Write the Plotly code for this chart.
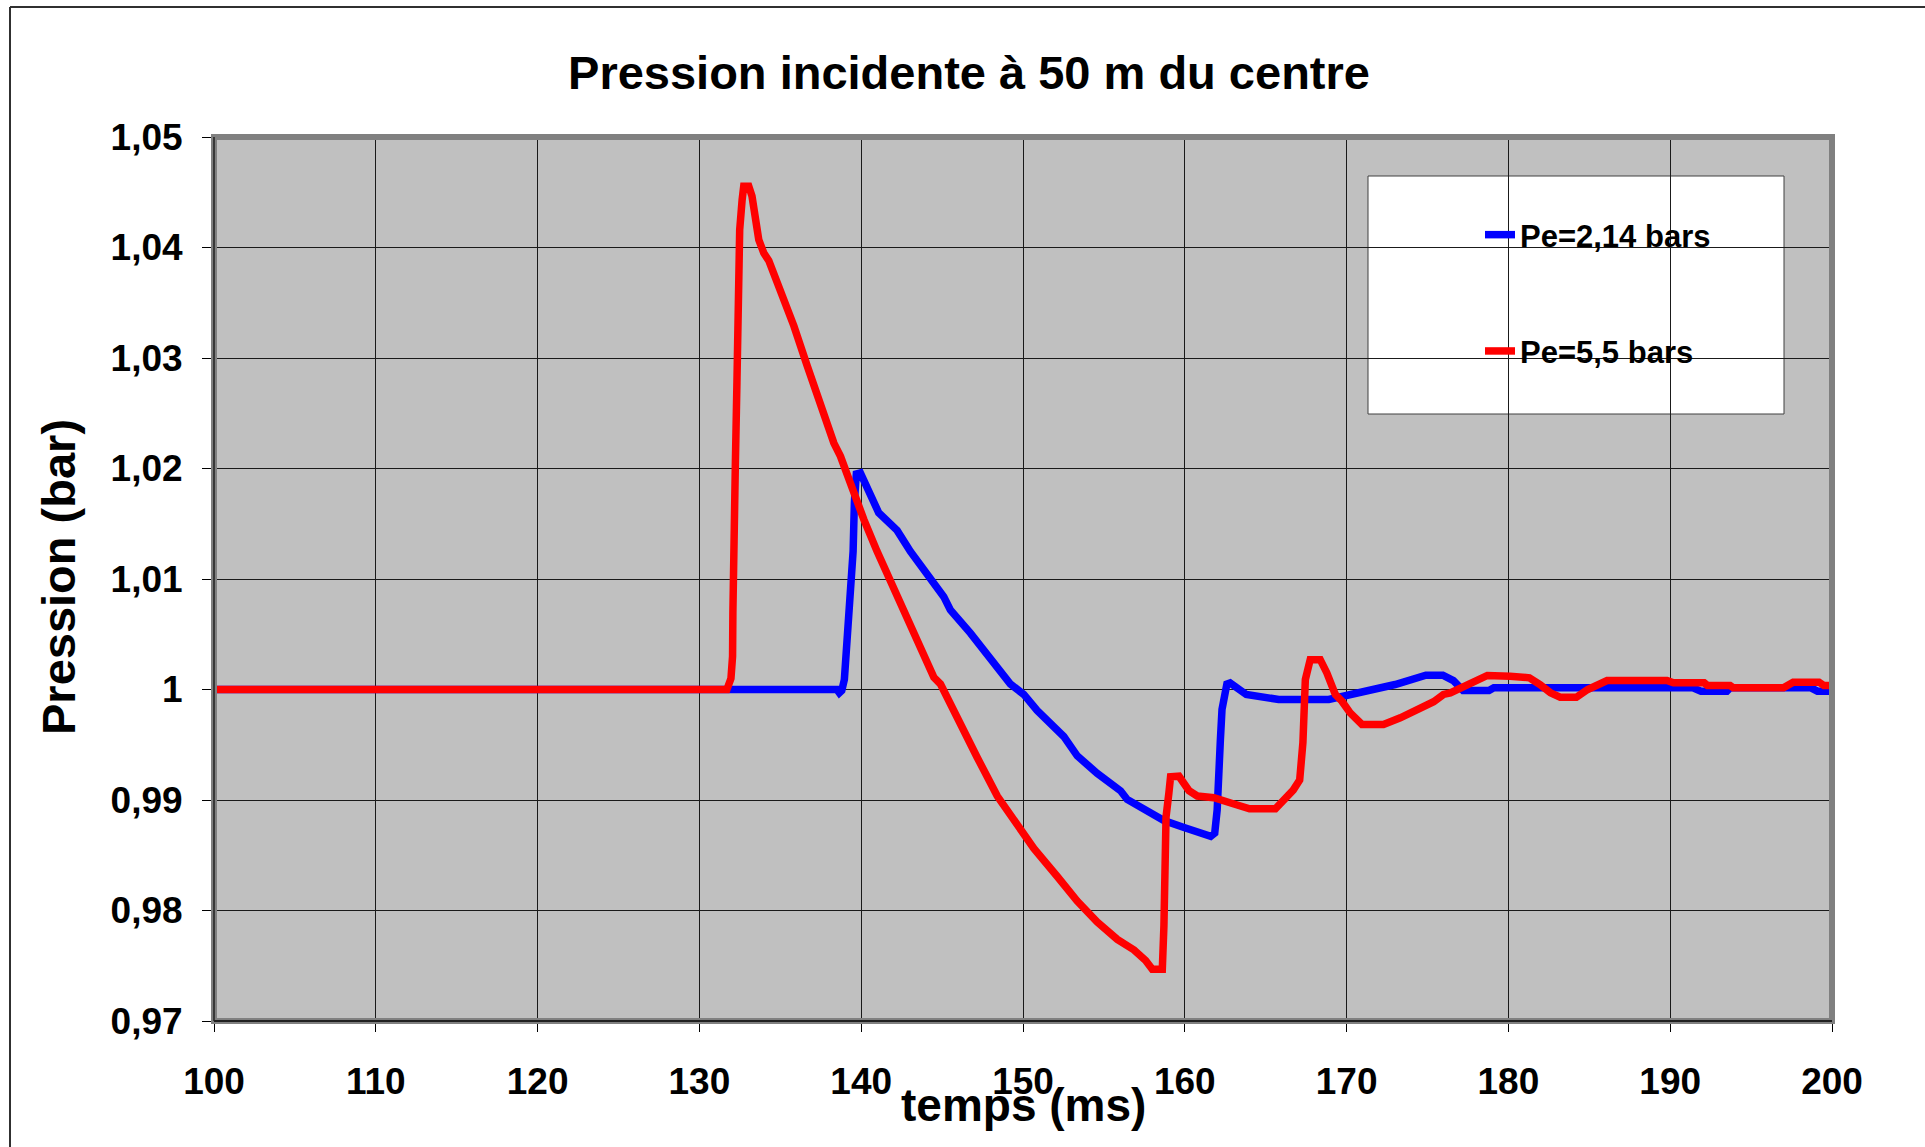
import plotly.graph_objects as go

# Incident pressure 50 m from the centre, two initial pressures
series_names = ["Pe=2,14 bars", "Pe=5,5 bars"]

t_pe214 = [100, 138.5, 138.65, 138.8, 138.96, 139.12, 139.3, 139.4, 139.5, 139.58,
           139.7, 139.95, 140.26, 140.57, 141.08, 142.22, 143.04, 145.1, 145.51,
           146.75, 147.78, 149.22, 150.05, 150.87, 152.52, 153.35, 154.58, 156.03,
           156.44, 157.68, 158.71, 159.95, 161.6, 161.85, 162.0, 162.2, 162.3,
           162.6, 162.8, 163.8, 164.8, 165.8, 168.9, 170.2, 171.8, 173.0, 174.9,
           175.95, 176.6, 177.2, 178.8, 179.1, 191.4, 191.9, 193.5, 193.7, 198.7,
           199.1, 200]
p_pe214 = [1.0, 1.0, 0.9997, 0.9999, 1.0009, 1.0042, 1.0081, 1.0100, 1.0125, 1.0170,
           1.0195, 1.0196, 1.0187, 1.0176, 1.0160, 1.0144, 1.0125, 1.0084, 1.0072,
           1.0051, 1.0032, 1.0005, 0.99955, 0.9981, 0.99575, 0.9940, 0.99242, 0.99083,
           0.99005, 0.9891, 0.98814, 0.98751, 0.98671, 0.9870, 0.9891, 0.99548, 0.9982,
           1.0005, 1.0006, 0.99955, 0.9994, 0.9991, 0.9991, 0.99955, 1.0, 1.00045, 1.0013,
           1.0013, 1.0008, 0.9999, 0.9999, 1.00015, 1.00015, 0.99985, 0.99985, 1.00015,
           1.00015, 0.99985, 0.99985]

t_pe55 = [100, 131.7, 131.95, 132.05, 132.07, 132.18, 132.22, 132.32, 132.37, 132.45,
          132.49, 132.64, 132.74, 133.05, 133.25, 133.67, 133.98, 134.29, 135.01,
          135.84, 136.66, 137.28, 138.31, 138.72, 139.33, 140.16, 140.98, 142.01,
          142.84, 143.66, 144.49, 144.9, 146.14, 147.17, 148.41, 149.64, 150.67,
          152.12, 153.35, 154.59, 155.83, 156.86, 157.58, 157.99, 158.61, 158.71,
          158.8, 158.84, 159.02, 159.12, 159.64, 160.26, 160.77, 161.39, 161.8,
          162.84, 163.5, 164.0, 165.6, 166.1, 166.7, 167.1, 167.3, 167.45, 167.75,
          168.37, 168.78, 169.3, 169.71, 170.22, 170.95, 172.28, 172.7, 173.32,
          175.38, 175.99, 176.41, 177.85, 178.7, 180.1, 181.3, 181.95, 182.6, 183.2,
          184.2, 184.9, 185.7, 186.1, 189.8, 190.2, 192.1, 192.3, 193.7, 193.9,
          197.0, 197.6, 199.2, 199.5, 200]
p_pe55 = [1.0, 1.0, 1.0010, 1.0030, 1.0070, 1.0127, 1.0202, 1.0278, 1.0338, 1.0359,
          1.0416, 1.0443, 1.04555, 1.04555, 1.04465, 1.0407, 1.0395, 1.0388, 1.0362,
          1.0329, 1.0293, 1.0266, 1.0223, 1.0211, 1.0186, 1.0154, 1.0125, 1.0091,
          1.0065, 1.0037, 1.0011, 1.0005, 0.9967, 0.99385, 0.99036, 0.98783, 0.98561,
          0.98308, 0.98086, 0.97896, 0.97738, 0.97643, 0.97548, 0.97468, 0.97468,
          0.97864, 0.98276, 0.98846, 0.99068, 0.9921, 0.99215, 0.99084, 0.99036,
          0.99036, 0.9902, 0.98973, 0.9894, 0.9892, 0.9892, 0.9899, 0.9909, 0.9918,
          0.9952, 1.0009, 1.0027, 1.0027, 1.0015, 0.99955, 0.99894, 0.99789, 0.99683,
          0.99683, 0.99714, 0.99744, 0.9989, 0.99955, 0.9997, 1.00075, 1.00127,
          1.0012, 1.00106, 1.00045, 0.9997, 0.9993, 0.9993, 1.0, 1.0006, 1.00081,
          1.00081, 1.0006, 1.0006, 1.00036, 1.00036, 1.00015, 1.00015, 1.00066,
          1.00066, 1.00036, 1.00036]

x_tick_values = [100, 110, 120, 130, 140, 150, 160, 170, 180, 190, 200]
y_tick_values = [0.97, 0.98, 0.99, 1.00, 1.01, 1.02, 1.03, 1.04, 1.05]
y_tick_labels = ["0,97", "0,98", "0,99", "1", "1,01", "1,02", "1,03", "1,04", "1,05"]

W, H = 1925, 1147
ML, MR, MT, MB = 214, 93, 137, 126
PW, PH = W - ML - MR, H - MT - MB


def px_x(px):
    return (px - ML) / PW


def px_y(py):
    return (H - MB - py) / PH


FONT = "Arial, Liberation Sans, sans-serif"

fig = go.Figure()
fig.add_trace(go.Scatter(x=t_pe214, y=p_pe214, mode="lines", name=series_names[0],
                         legendgroup="a",
                         line=dict(color="#0000FF", width=7.5)))
fig.add_trace(go.Scatter(x=t_pe55, y=p_pe55, mode="lines", name=series_names[1],
                         legendgroup="b",
                         line=dict(color="#FF0000", width=7.5)))

shapes = [
    # legend frame
    dict(type="rect", xref="paper", yref="paper", layer="below",
         x0=px_x(1368), x1=px_x(1784), y0=px_y(414), y1=px_y(176),
         fillcolor="white", line=dict(color="#404040", width=1)),
    # plot-area border
    dict(type="rect", xref="paper", yref="paper", layer="above",
         x0=0, x1=1, y0=0, y1=1, line=dict(color="#808080", width=6)),
    dict(type="line", xref="paper", yref="paper", layer="above",
         x0=0, x1=0, y0=0, y1=1, line=dict(color="#202020", width=1.5)),
    dict(type="line", xref="paper", yref="paper", layer="above",
         x0=0, x1=1, y0=0, y1=0, line=dict(color="#202020", width=2)),
    # chart-area frame
    dict(type="line", xref="paper", yref="paper", layer="above",
         x0=px_x(10), x1=px_x(W + 5), y0=px_y(7), y1=px_y(7),
         line=dict(color="#303030", width=2)),
    dict(type="line", xref="paper", yref="paper", layer="above",
         x0=px_x(10), x1=px_x(10), y0=px_y(7), y1=px_y(H + 5),
         line=dict(color="#303030", width=2)),
]

fig.update_layout(
    width=W, height=H,
    margin=dict(l=ML, r=MR, t=MT, b=MB, autoexpand=False),
    paper_bgcolor="white",
    plot_bgcolor="#C0C0C0",
    separators=", ",
    font=dict(family=FONT, color="black"),
    title=dict(text="Pression incidente à 50 m du centre",
               font=dict(family=FONT, size=47, weight="bold", color="black"),
               xref="container", yref="container",
               x=969 / W, xanchor="center", y=1 - 73 / H, yanchor="middle"),
    showlegend=True,
    legend=dict(x=px_x(1480), xanchor="left", y=px_y(208), yanchor="top",
                bgcolor="rgba(0,0,0,0)", borderwidth=0, tracegroupgap=73,
                font=dict(family=FONT, size=31, weight="bold", color="black")),
    shapes=shapes,
    annotations=[
        dict(text="temps (ms)", xref="paper", yref="paper", x=0.5, y=px_y(1105),
             xanchor="center", yanchor="middle", showarrow=False,
             font=dict(family=FONT, size=46, weight="bold", color="black")),
        dict(text="Pression (bar)", xref="paper", yref="paper", x=px_x(58),
             y=px_y(577), xanchor="center", yanchor="middle", textangle=-90,
             showarrow=False,
             font=dict(family=FONT, size=47, weight="bold", color="black")),
    ],
)

fig.update_xaxes(range=[100, 200], tickvals=x_tick_values,
                 ticks="outside", ticklen=10, tickwidth=1, tickcolor="black",
                 showgrid=True, gridcolor="#1a1a1a", gridwidth=1,
                 zeroline=False, showline=False, ticklabelstandoff=18,
                 tickfont=dict(family=FONT, size=37, weight="bold", color="black"))
fig.update_yaxes(range=[0.97, 1.05], tickvals=y_tick_values, ticktext=y_tick_labels,
                 ticks="outside", ticklen=11, tickwidth=1, tickcolor="black",
                 showgrid=True, gridcolor="#1a1a1a", gridwidth=1,
                 zeroline=False, showline=False, ticklabelstandoff=12,
                 tickfont=dict(family=FONT, size=37, weight="bold", color="black"))

fig.write_html("out.html")
